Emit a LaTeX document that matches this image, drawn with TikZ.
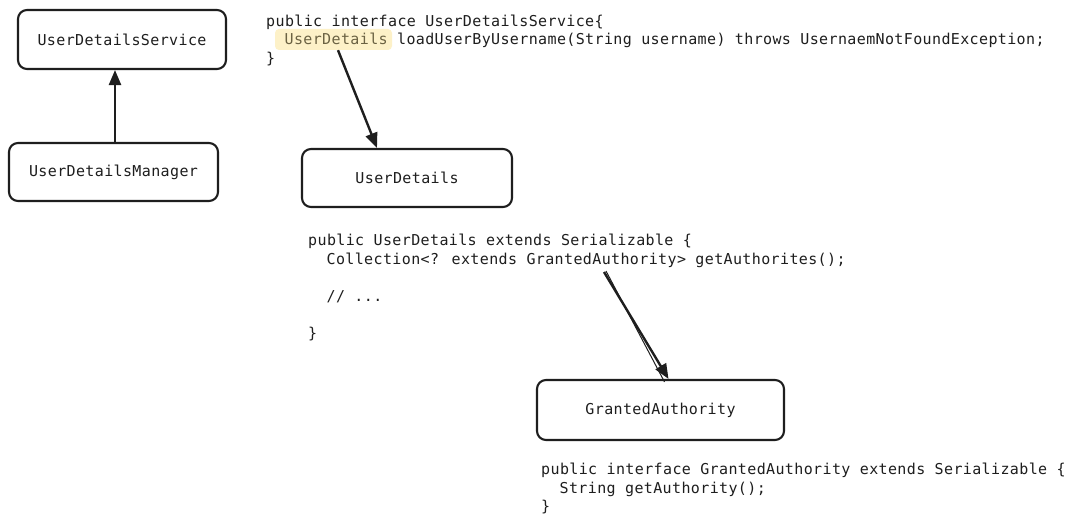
\documentclass[tikz,border=0pt]{standalone}
\usepackage{fontspec}
\newfontfamily\codefont[LetterSpace=2.5]{DejaVu Sans Mono}
\usetikzlibrary{arrows.meta}
\definecolor{ink}{HTML}{1E1E1E}
\definecolor{hlfill}{HTML}{FDF1C8}
\definecolor{hltext}{HTML}{6B6243}
\tikzset{
  box/.style={draw=ink, line width=2.1pt, rounded corners=9pt, text=ink, inner sep=0pt},
  code/.style={anchor=north west, align=left, inner sep=0pt, text=ink},
  arr/.style={draw=ink, line width=2.4pt, -{Triangle[length=15pt,width=12pt]}},
}
\begin{document}
\begin{tikzpicture}[x=1pt, y=-1pt, font=\codefont\fontsize{15}{18.6}\selectfont]
\useasboundingbox (0,0) rectangle (1075,526);
\fill[white] (0,0) rectangle (1075,526);

% boxes
\node[box, minimum width=208pt, minimum height=59pt] (uds) at (122,39.5) {UserDetailsService};
\node[box, minimum width=209pt, minimum height=58pt] (udm) at (113.5,172) {UserDetailsManager};
\node[box, minimum width=210pt, minimum height=58pt] (ud) at (407,178) {UserDetails};
\node[box, minimum width=247pt, minimum height=60pt] (ga) at (660.5,410) {GrantedAuthority};

% highlight
\node[fill=hlfill, rounded corners=4pt, minimum width=117pt, minimum height=21pt, inner sep=0pt] (hl) at (333.5,39.5) {};

% code blocks
\node[code] (c1) at (266,14.5) {public interface UserDetailsService\{\\
\phantom{xx}\textcolor{hltext}{UserDetails} loadUserByUsername(String username) throws UsernaemNotFoundException;\\
\}};
\node[code] (c2) at (308,234) {public UserDetails extends Serializable \{\\
\phantom{xx}Collection<? extends GrantedAuthority> getAuthorites();\\[18.6pt]
\phantom{xx}// ...\\[18.6pt]
\}};
\node[code] (c3) at (541,463) {public interface GrantedAuthority extends Serializable \{\\
\phantom{xx}String getAuthority();\\
\}};

% connectors
\draw[arr] ([xshift=1.5pt]udm.north) -- ([xshift=-7pt]uds.south);
\draw[arr] ([xshift=4.5pt]hl.south) -- ([xshift=-30pt]ud.north);
\coordinate (gasrc) at (604,272);
\draw[arr] (gasrc) -- ([xshift=8pt]ga.north);
\draw[draw=ink, line width=1pt] ([xshift=2pt,yshift=1pt]gasrc) -- ([xshift=4pt,yshift=-3pt]ga.north);
\end{tikzpicture}
\end{document}
